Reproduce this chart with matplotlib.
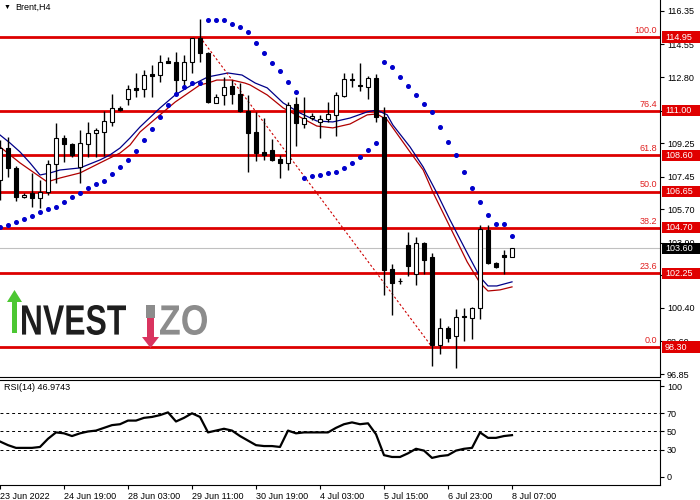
import numpy as np
import matplotlib
matplotlib.use('Agg')
import matplotlib.pyplot as plt
from matplotlib.patches import Rectangle, PathPatch, Polygon
from matplotlib.textpath import TextPath
from matplotlib.font_manager import FontProperties
from matplotlib.transforms import blended_transform_factory, Affine2D

plt.rcParams['font.family'] = ['Liberation Sans', 'DejaVu Sans']

# Brent H4 candles
opens = [107.27, 108.99, 107.92, 106.36, 106.58, 106.31, 106.63, 108.13, 109.53, 109.21,
         107.97, 109.21, 109.80, 109.85, 110.39, 111.14, 111.62, 112.22, 112.16, 112.97,
         112.91, 113.64, 113.61, 112.64, 113.61, 114.90, 114.09, 111.41, 111.84, 112.32,
         111.89, 110.98, 109.85, 108.78, 108.89, 108.40, 108.19, 111.36, 110.28, 110.60,
         110.39, 110.55, 110.77, 111.79, 112.67, 112.35, 112.27, 112.75, 110.66, 102.49,
         101.85, 103.78, 102.23, 103.89, 103.14, 98.41, 99.33, 98.90, 99.94, 99.86,
         100.40, 104.59, 102.82, 103.22, 103.14]
highs = [109.42, 109.58, 108.03, 106.58, 107.65, 107.27, 108.35, 110.34, 109.69, 109.26,
         109.96, 110.39, 110.07, 110.98, 111.89, 111.25, 112.38, 113.02, 113.18, 113.45,
         113.99, 113.88, 114.15, 113.99, 114.90, 115.92, 114.15, 111.89, 112.81, 112.64,
         112.48, 111.84, 110.93, 110.60, 109.48, 108.62, 111.46, 111.73, 111.73, 110.87,
         110.77, 111.46, 112.00, 113.02, 113.02, 113.56, 112.86, 112.97, 111.19, 102.76,
         102.01, 104.48, 104.21, 103.95, 103.35, 99.86, 99.43, 100.35, 100.40, 100.45,
         104.86, 104.86, 102.87, 103.51, 103.62]
lows = [106.20, 107.44, 106.15, 106.31, 105.82, 105.77, 106.47, 107.11, 108.24, 108.51,
        107.11, 108.51, 108.51, 108.56, 110.17, 110.98, 111.30, 111.73, 111.73, 111.73,
        112.54, 113.56, 111.84, 112.27, 113.02, 113.61, 111.41, 111.41, 111.30, 111.36,
        110.93, 107.70, 108.29, 108.35, 108.29, 107.38, 107.81, 109.10, 110.07, 110.50,
        109.53, 110.39, 109.64, 111.73, 112.27, 112.06, 111.62, 110.39, 101.10, 100.02,
        101.69, 102.12, 101.64, 102.23, 97.29, 97.93, 98.57, 97.18, 98.63, 98.74,
        99.81, 102.76, 102.55, 102.23, 103.14]
closes = [108.99, 107.92, 106.36, 106.47, 106.31, 106.63, 108.13, 109.53, 109.21, 108.62,
          109.26, 109.80, 109.96, 110.44, 111.14, 111.03, 112.16, 112.11, 112.91, 112.86,
          113.61, 113.58, 112.64, 113.61, 114.90, 114.09, 111.46, 111.73, 112.27, 111.89,
          110.98, 109.80, 108.72, 108.62, 108.35, 108.19, 111.30, 110.34, 110.60, 110.71,
          110.55, 110.82, 111.84, 112.70, 112.62, 112.30, 112.75, 110.66, 102.44, 101.74,
          101.83, 102.66, 103.89, 102.98, 98.41, 99.33, 98.79, 99.92, 99.89, 100.40,
          104.64, 102.82, 102.60, 103.16, 103.60]

# parabolic SAR
sar = [104.75, 104.86, 105.02, 105.18, 105.34, 105.55, 105.72, 105.82, 106.09, 106.36,
       106.58, 106.84, 107.06, 107.22, 107.60, 107.97, 108.35, 108.83, 109.42, 110.01,
       110.66, 111.30, 111.89, 112.27, 112.48, 112.48, 115.89, 115.89, 115.87, 115.65,
       115.49, 115.22, 114.63, 114.09, 113.56, 113.13, 112.54, 112.00, 107.38, 107.49,
       107.54, 107.65, 107.70, 107.92, 108.19, 108.51, 108.89, 109.26, 113.61, 113.34,
       112.81, 112.32, 111.84, 111.36, 110.93, 110.12, 109.32, 108.62, 107.70, 106.84,
       106.09, 105.39, 104.91, 104.91, 104.27]

# moving averages (bar position, price)
ma_blue_x = [0, 1.25, 2.5, 3.75, 5, 6.25, 7.5, 10, 12.5, 13.75, 15, 16.25, 17.5, 20, 21.9,
             24, 26, 28.5, 30.25, 31.9, 33.4, 35.4, 37.5, 39.6, 41.6, 43.75, 45.9, 47.1,
             48.4, 49.1, 51.25, 52.9, 54.6, 56.25, 58.4, 60, 61, 62.1, 64]
ma_blue = [109.69, 109.26, 108.78, 108.19, 107.54, 107.65, 107.81, 107.92, 108.35, 108.62,
           108.99, 109.53, 110.12, 111.14, 111.84, 112.38, 112.81, 113.02, 112.91, 112.48,
           112.22, 111.41, 110.87, 110.44, 110.39, 110.60, 110.93, 111.03, 110.77, 110.23,
           109.05, 107.97, 106.58, 105.13, 103.35, 102.06, 101.58, 101.58, 101.80]
ma_red_x = [0, 2.5, 5.9, 7.5, 10, 12.5, 15, 16.25, 17.5, 20, 21.9, 25, 26, 27.1, 29, 30.6,
            31.25, 33.4, 35.4, 39.6, 41.6, 43.75, 45.9, 47.1, 48.4, 51.25, 52.9, 54.1,
            56.25, 58.4, 60, 61, 62.5, 64]
ma_red = [109.05, 108.19, 107.17, 107.38, 107.65, 108.19, 108.72, 109.15, 109.85, 110.77,
          111.46, 112.38, 112.48, 112.64, 112.64, 112.48, 112.38, 111.84, 111.14, 110.17,
          110.07, 110.28, 110.77, 110.82, 110.50, 108.78, 107.81, 106.63, 104.75, 102.87,
          101.74, 101.31, 101.37, 101.53]

# fibonacci levels
fib_levels = [114.95, 111.00, 108.60, 106.65, 104.70, 102.25, 98.30]
fib_labels = ['100.0', '76.4', '61.8', '50.0', '38.2', '23.6', '0.0']
fib_start = (25, 114.95)
fib_end = (54, 98.30)
last_price = 103.60

# right scale; 111.00 and 102.15 sit fully under the level boxes
price_ticks = [116.35, 114.55, 112.80, 111.00, 109.25, 107.45, 105.70, 103.90, 102.15,
               100.40, 98.60, 96.85]
hidden_ticks = [111.00, 102.15]

rsi = [39, 35, 32, 32, 32, 33, 42, 49, 48, 45,
       48, 50, 51, 54, 57, 58, 62, 62, 65, 66,
       68, 71, 61, 65, 70, 66, 49, 51, 53, 51,
       45, 40, 35, 34, 34, 33, 51, 48, 49, 49,
       49, 49, 54, 58, 60, 58, 59, 47, 24, 22,
       22, 26, 31, 29, 21, 23, 24, 29, 31, 32,
       49, 43, 43, 45, 46]
rsi_levels = [70, 50, 30]

date_pos = [0, 8, 16, 24, 32, 40, 48, 56, 64]
date_labels = ['23 Jun 2022', '24 Jun 19:00', '28 Jun 03:00', '29 Jun 11:00', '30 Jun 19:00',
               '4 Jul 03:00', '5 Jul 15:00', '6 Jul 23:00', '8 Jul 07:00']

W, H = 700, 500
RED = '#dd0000'
fig = plt.figure(figsize=(7, 5), dpi=100)
ax = fig.add_axes([0, 123 / H, 660 / W, 377 / H])
ax2 = fig.add_axes([0, 15 / H, 660 / W, 105 / H], sharex=ax)

# candles
bars = np.arange(len(closes))
ax.vlines(bars, lows, highs, color='black', lw=1, zorder=3)
for i in bars:
    o, c = opens[i], closes[i]
    ax.add_patch(Rectangle((i - 0.3, min(o, c)), 0.6, max(abs(c - o), 0.04),
                           facecolor='white' if c >= o else 'black',
                           edgecolor='black', lw=0.8, zorder=4))

ax.plot(bars, sar, 'o', color='#0000cc', ms=2.6, zorder=5)
ax.plot(ma_blue_x, ma_blue, color='#000088', lw=0.9, zorder=2)
ax.plot(ma_red_x, ma_red, color='#b00000', lw=0.9, zorder=2)
ax.plot([fib_start[0], fib_end[0]], [fib_start[1], fib_end[1]], color='#cc0000',
        lw=0.8, ls=(0, (2, 2)), zorder=2)

ax.axhline(last_price, color='#c0c0c0', lw=0.8, zorder=0.5)
mixed = blended_transform_factory(ax.transAxes, ax.transData)
for lev, lbl in zip(fib_levels, fib_labels):
    ax.axhline(lev, color=RED, lw=2, zorder=1)
    ax.annotate(lbl, xy=(1, lev), xycoords=mixed, xytext=(-2, 1.5),
                textcoords='offset points', ha='right', va='bottom',
                color='#e02020', fontsize=6.5)

ax.set_xlim(0, 82.5)
ax.set_ylim(96.69, 116.94)
ax.yaxis.tick_right()
ax.set_yticks(price_ticks)
ax.set_yticklabels(['' if t in hidden_ticks else f'{t:.2f}' for t in price_ticks])
ax.tick_params(axis='y', direction='out', length=3, pad=2, labelsize=6.5)
ax.tick_params(axis='x', bottom=False, labelbottom=False)
for s in ['top', 'left']:
    ax.spines[s].set_visible(False)

# price boxes on the right axis
box_tr = blended_transform_factory(fig.transFigure, ax.transData)
box_h = 0.6
for lev in fib_levels + [last_price]:
    fc = 'black' if lev == last_price else '#e00000'
    ax.add_patch(Rectangle((662 / W, lev - box_h / 2), 38 / W, box_h, transform=box_tr,
                           facecolor=fc, edgecolor='none', clip_on=False, zorder=6))
    ax.text(665 / W, lev, f'{lev:.2f}', transform=box_tr, color='white', fontsize=6.5,
            ha='left', va='center', zorder=7, clip_on=False)

# RSI panel
ax2.plot(bars, rsi, color='black', lw=1.6)
for lv in rsi_levels:
    ax2.axhline(lv, color='black', lw=0.7, ls=(0, (3, 3)))
ax2.set_ylim(-8.8, 106.6)
ax2.yaxis.tick_right()
ax2.set_yticks([0, 30, 50, 70, 100])
ax2.tick_params(axis='y', direction='out', length=3, pad=2, labelsize=6.5)
ax2.set_xticks(date_pos)
ax2.set_xticklabels(date_labels, ha='left')
ax2.tick_params(axis='x', direction='out', length=3, pad=2, labelsize=6.5)
ax2.spines['left'].set_visible(False)
ax2.text(4 / 660, 0.933, 'RSI(14) 46.9743', transform=ax2.transAxes, fontsize=6.5,
         va='center')

# title
fig.text(4 / W, 1 - 7 / H, '▼', fontsize=5, va='center')
fig.text(15 / W, 1 - 7 / H, 'Brent,H4', fontsize=6.5, va='center')


# watermark logo
def word(txt, x0, x1, ytop, ybot, color):
    path = TextPath((0, 0), txt, size=10, prop=FontProperties(family='Liberation Sans', weight='bold'))
    ext = path.get_extents()
    sx = (x1 - x0) / W / ext.width
    sy = (ybot - ytop) / H / ext.height
    tr = Affine2D().translate(-ext.x0, -ext.y0).scale(sx, sy).translate(x0 / W, 1 - ybot / H)
    fig.add_artist(PathPatch(path, facecolor=color, edgecolor='none', transform=tr + fig.transFigure))


def poly(pts, color):
    fig.add_artist(Polygon([(x / W, 1 - y / H) for x, y in pts], closed=True,
                           facecolor=color, edgecolor='none', transform=fig.transFigure))


word('NVEST', 22, 126, 305, 335, '#1e1e1e')
word('ZO', 160, 207, 305, 335, '#8c8c8c')
poly([(146, 305), (155, 305), (155, 318), (146, 318)], '#8c8c8c')
poly([(12, 333), (17, 333), (17, 302), (22, 302), (14.5, 290), (7, 302), (12, 302)], '#4cc732')
poly([(147, 318), (154, 318), (154, 337), (159, 337), (150.5, 348), (142, 337), (147, 337)], '#d9345f')

fig.savefig('out.png', dpi=100)
